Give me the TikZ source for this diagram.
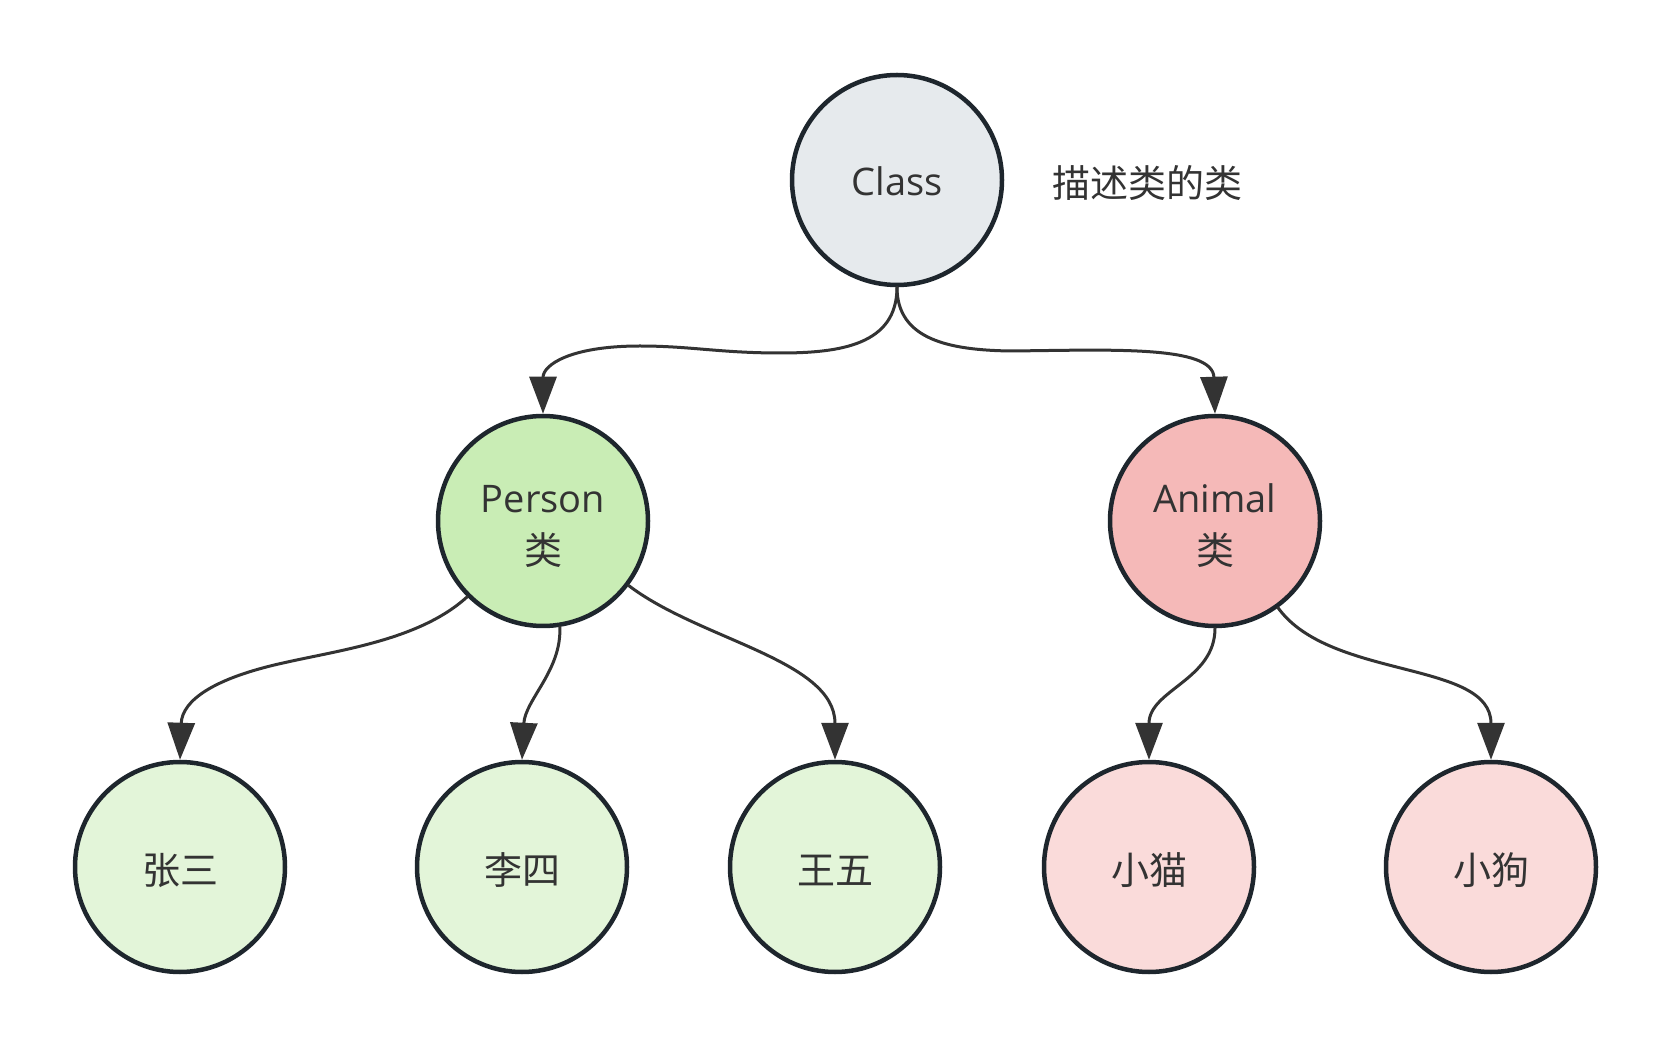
\documentclass[tikz,border=0pt]{standalone}
\usepackage{fontspec}
\setmainfont{Open Sans}
\newfontfamily\cjk{Noto Sans CJK SC}
\usetikzlibrary{arrows.meta}
\definecolor{txt}{HTML}{333333}
\definecolor{bord}{HTML}{1E262D}
\definecolor{edgecol}{HTML}{333333}
\definecolor{fclass}{HTML}{E6EAED}
\definecolor{fperson}{HTML}{C9EDB5}
\definecolor{fanimal}{HTML}{F5B9B8}
\definecolor{fgreen}{HTML}{E3F5D9}
\definecolor{fpink}{HTML}{FADBDA}
\tikzset{
  ball/.style={circle, draw=bord, line width=2.25pt, minimum size=105pt, inner sep=0pt,
    align=center, text=txt, font=\fontsize{19}{26}\selectfont},
  leaf/.style={ball, text height=17.5pt, text depth=0pt},
  link/.style={draw=edgecol, line width=1.5pt, line cap=round, line join=round,
    -{Triangle[length=18.5pt,width=13.5pt]}},
  note/.style={text=txt, font=\cjk\fontsize{19}{26}\selectfont, inner sep=0pt}
}
\begin{document}
\begin{tikzpicture}[x=0.5pt, y=-0.5pt]
\useasboundingbox (0,0) rectangle (1671,1047);
\node[ball, fill=fclass, text height=15.5pt, text depth=0pt] (cls) at (897,180) {Class};
\node[note, anchor=west] (desc) at (1052,183) {描述类的类};
\node[ball, fill=fperson] (per) at (543,521) {\rule{0pt}{19pt}Person\\{\cjk 类}};
\node[ball, fill=fanimal] (ani) at (1215,521) {\rule{0pt}{19pt}Animal\\{\cjk 类}};
\node[leaf, fill=fgreen] (zs) at (180,867) {\cjk 张三};
\node[leaf, fill=fgreen] (ls) at (522,867) {\cjk 李四};
\node[leaf, fill=fgreen] (ww) at (835,867) {\cjk 王五};
\node[leaf, fill=fpink] (xm) at (1149,867) {\cjk 小猫};
\node[leaf, fill=fpink] (xg) at (1491,867) {\cjk 小狗};

\draw[link] (cls.south) .. controls (897,345) and (840,353) .. (780,353)
  .. controls (720,353) and (690,346) .. (640,346)
  .. controls (570,346) and (543,365) .. (per.north);
\draw[link] (cls.south) .. controls (897,340) and (950,350) .. (1010,351)
  .. controls (1110,350) and (1213,345) .. (ani.north);
\draw[link] (per.225) .. controls (420,640) and (340,650) .. (283,663)
  .. controls (215,678) and (182,700) .. (zs.north);
\draw[link] (per.-81) .. controls (562,670) and (525,700) .. (ls.north);
\draw[link] (per.-37) .. controls (700,640) and (835,660) .. (ww.north);
\draw[link] (ani.south) .. controls (1215,680) and (1149,690) .. (xm.north);
\draw[link] (ani.-54) .. controls (1330,680) and (1491,660) .. (xg.north);
\end{tikzpicture}
\end{document}
